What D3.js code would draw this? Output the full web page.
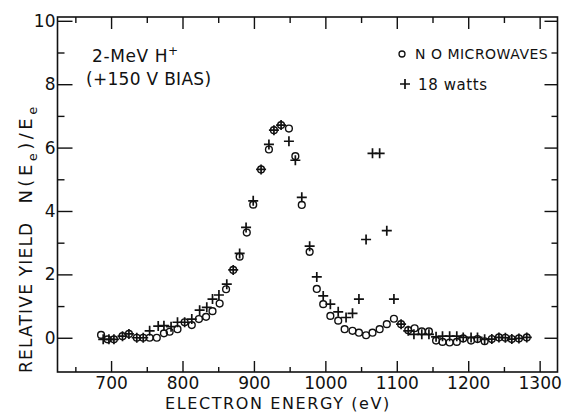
<!DOCTYPE html>
<html>
<head>
    <meta charset="UTF-8">
    <title>Relative yield vs electron energy</title>
    <script src="https://d3js.org/d3.v7.min.js"></script>
    <style>
        body { margin: 0; background: #fff; }
        svg text { font-family: "DejaVu Sans", sans-serif; fill: #111; }
        .axis path { display: none; }
        .axis line { stroke: #111; stroke-width: 1.4; }
    </style>
</head>
<body>
<svg id="chart" width="563" height="413"></svg>
<script>

// circles: no microwaves
var energyOff = [686, 695, 704, 716, 725, 736, 745, 754, 764, 774, 782, 793, 803, 813, 823, 833, 842, 852, 861, 871,
    880, 890, 899, 910, 921, 928, 938, 949, 958, 967, 978, 988, 997, 1007, 1018, 1027, 1038, 1047, 1057, 1066,
    1076, 1086, 1096, 1106, 1116, 1125, 1135, 1145, 1155, 1164, 1174, 1184, 1193, 1204, 1213, 1223, 1233, 1243, 1252, 1261,
    1271, 1282];
var yieldOff = [0.09, -0.05, -0.05, 0.05, 0.12, 0, 0, 0, 0, 0.14, 0.19, 0.27, 0.49, 0.40, 0.59, 0.66, 0.84, 1.08, 1.53, 2.14,
    2.56, 3.32, 4.2, 5.31, 5.94, 6.55, 6.71, 6.6, 5.73, 4.19, 2.71, 1.54, 1.06, 0.69, 0.54, 0.27, 0.22, 0.16, 0.08, 0.16,
    0.27, 0.43, 0.60, 0.43, 0.24, 0.30, 0.20, 0.20, -0.09, -0.13, -0.15, -0.13, -0.02, -0.09, -0.04, -0.11, -0.04, 0.01, 0, -0.04,
    -0.02, 0.01];

// pluses: 18 watts
var energyOn = [689, 697, 704, 716, 725, 736, 745, 754, 766, 774, 784, 793, 803, 813, 824, 834, 842, 851, 862, 871,
    880, 889, 899, 910, 921, 928, 938, 949, 958, 967, 978, 988, 997, 1007, 1018, 1029, 1038, 1047, 1057, 1066,
    1076, 1086, 1096, 1106, 1116, 1124, 1135, 1145, 1155, 1164, 1174, 1184, 1193, 1204, 1213, 1223, 1233, 1243, 1252, 1261,
    1271, 1282];
var yieldOn = [-0.05, -0.05, -0.05, 0.05, 0.12, 0, 0, 0.22, 0.37, 0.38, 0.35, 0.49, 0.49, 0.59, 0.87, 0.96, 1.22, 1.35, 1.69, 2.14,
    2.66, 3.48, 4.32, 5.31, 6.1, 6.55, 6.71, 6.2, 5.6, 4.43, 2.89, 1.92, 1.32, 1.06, 0.82, 0.64, 0.77, 1.22, 3.10, 5.82,
    5.82, 3.38, 1.22, 0.43, 0.22, 0.11, 0.11, 0.11, 0.03, 0.05, 0.05, 0.05, 0.01, 0.01, 0.01, -0.05, -0.04, 0.01, 0, -0.04,
    -0.02, 0.01];

var xMajor = [700, 800, 900, 1000, 1100, 1200, 1300];
var xMinor = [650, 750, 850, 950, 1050, 1150, 1250];
var yMajor = [0, 2, 4, 6, 8, 10];
var yMinor = [1, 3, 5, 7, 9];

var svg = d3.select("#chart");

var x = d3.scaleLinear().domain([625, 1325]).range([57.5, 557.5]);
var y = d3.scaleLinear().domain([-1.08, 10.12]).range([372, 17]);

var off = energyOff.map(function (e, i) { return {e: e, v: yieldOff[i]}; });
var on = energyOn.map(function (e, i) { return {e: e, v: yieldOn[i]}; });

//ticks all point inward
function addAxis(axis, tr) {
    return svg.append("g").attr("class", "axis").attr("transform", tr).call(axis);
}

addAxis(d3.axisBottom(x).tickValues(xMajor).tickSize(-11).tickPadding(5).tickFormat(d3.format("d")), "translate(0,372)")
    .selectAll("text").style("font-size", "17px");
addAxis(d3.axisBottom(x).tickValues(xMinor).tickSize(-5).tickFormat(""), "translate(0,372)");
addAxis(d3.axisTop(x).tickValues(xMajor).tickSize(-12).tickFormat(""), "translate(0,17)");
addAxis(d3.axisTop(x).tickValues(xMinor).tickSize(-6).tickFormat(""), "translate(0,17)");

addAxis(d3.axisLeft(y).tickValues(yMajor).tickSize(-15).tickPadding(2).tickFormat(d3.format("d")), "translate(57.5,0)")
    .selectAll("text").style("font-size", "17px");
addAxis(d3.axisLeft(y).tickValues(yMinor).tickSize(-7).tickFormat(""), "translate(57.5,0)");
addAxis(d3.axisRight(y).tickValues(yMajor).tickSize(-13).tickFormat(""), "translate(557.5,0)");
addAxis(d3.axisRight(y).tickValues(yMinor).tickSize(-6).tickFormat(""), "translate(557.5,0)");

//frame
svg.append("rect")
    .attr("x", 57.5).attr("y", 17)
    .attr("width", 500).attr("height", 355)
    .attr("fill", "none").attr("stroke", "#111").attr("stroke-width", 1.6);

function plusPath(cx, cy, s) {
    return "M" + (cx - s) + "," + cy + "h" + (2 * s) + "M" + cx + "," + (cy - s) + "v" + (2 * s);
}

svg.append("g").selectAll("circle").data(off).enter().append("circle")
    .attr("cx", function (d) { return x(d.e); })
    .attr("cy", function (d) { return y(d.v); })
    .attr("r", 3.4)
    .attr("fill", "none").attr("stroke", "#111").attr("stroke-width", 1.4);

svg.append("g").selectAll("path").data(on).enter().append("path")
    .attr("d", function (d) { return plusPath(x(d.e), y(d.v), 5); })
    .attr("stroke", "#111").attr("stroke-width", 1.7);

//annotation
var note = svg.append("text").attr("x", 92).attr("y", 62).style("font-size", "17px").style("letter-spacing", "0.6px");
note.append("tspan").text("2-MeV  H");
note.append("tspan").attr("dy", -7).style("font-size", "12px").text("+");
svg.append("text").attr("x", 86).attr("y", 85).style("font-size", "17px").style("letter-spacing", "0.3px")
    .text("(+150 V BIAS)");

//legend
svg.append("circle").attr("cx", 402).attr("cy", 54).attr("r", 3)
    .attr("fill", "none").attr("stroke", "#111").attr("stroke-width", 1.3);
svg.append("text").attr("x", 415).attr("y", 59).style("font-size", "14px").style("letter-spacing", "0.5px")
    .text("N O MICROWAVES");
svg.append("path").attr("d", plusPath(405, 84, 5)).attr("stroke", "#111").attr("stroke-width", 1.7);
svg.append("text").attr("x", 418).attr("y", 90).style("font-size", "15px").style("letter-spacing", "0.6px")
    .text("18 watts");

//axis titles
svg.append("text").attr("x", 278).attr("y", 409).attr("text-anchor", "middle")
    .style("font-size", "16px").style("letter-spacing", "1.6px")
    .text("ELECTRON ENERGY (eV)");

var yt = svg.append("text").attr("transform", "translate(32,373) rotate(-90)")
    .style("font-size", "17px").style("letter-spacing", "1.2px");
yt.append("tspan").text("RELATIVE YIELD");
yt.append("tspan").attr("dx", 18).style("font-size", "18px").style("letter-spacing", "3.5px").text("N(E");
yt.append("tspan").attr("dy", 5).style("font-size", "13px").style("letter-spacing", "3.5px").text("e");
yt.append("tspan").attr("dy", -5).style("font-size", "18px").style("letter-spacing", "3.5px").text(")/E");
yt.append("tspan").attr("dy", 5).style("font-size", "13px").text("e");

</script>
</body>
</html>
